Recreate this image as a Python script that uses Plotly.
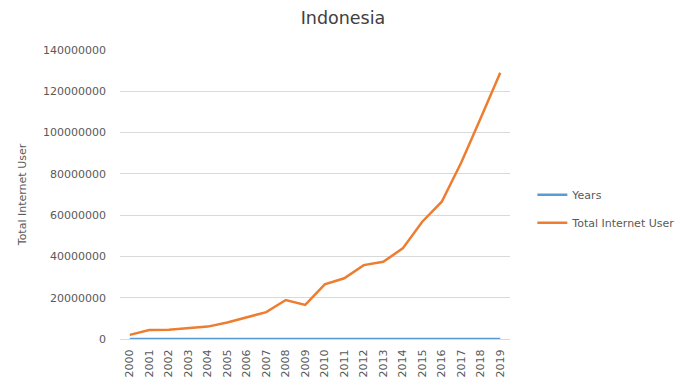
import plotly.graph_objects as go

years = list(range(2000, 2020))
year_labels = [str(y) for y in years]
internet_users = [2000000, 4400000, 4500000, 5300000, 6000000, 8000000, 10500000, 13000000,
                  18900000, 16500000, 26500000, 29400000, 35800000, 37400000, 43900000,
                  56800000, 66500000, 85500000, 107000000, 129000000]

grey = "#595959"
font_family = "DejaVu Sans, sans-serif"
fig = go.Figure()
fig.add_trace(go.Scatter(x=year_labels, y=years, mode="lines", name="Years", legendgroup="a",
                         line=dict(color="#5B9BD5", width=2.5)))
fig.add_trace(go.Scatter(x=year_labels, y=internet_users, mode="lines", name="Total Internet User",
                         legendgroup="b", line=dict(color="#ED7D31", width=2.5)))

fig.update_layout(
    width=686, height=383,
    margin=dict(l=120, r=176, t=50, b=44, autoexpand=False),
    paper_bgcolor="white", plot_bgcolor="white",
    font=dict(family=font_family, color=grey, size=11),
    title=dict(text="Indonesia", xref="container", x=0.5, xanchor="center",
               yref="container", y=0.953, yanchor="middle",
               font=dict(size=17.5, color="#404040", family=font_family)),
    showlegend=True,
    legend=dict(xref="container", yref="container", x=0.776, y=0.455,
                xanchor="left", yanchor="middle",
                font=dict(size=11, color=grey), bgcolor="rgba(0,0,0,0)",
                traceorder="grouped", tracegroupgap=9),
)
fig.update_xaxes(type="category", range=[-0.5, 19.5], tickangle=-90, showgrid=False,
                 showline=True, linecolor="#D9D9D9", linewidth=1, automargin=False,
                 tickfont=dict(size=11, color=grey), ticks="", ticklabelstandoff=5)
fig.update_yaxes(range=[0, 140000000], dtick=20000000, tickformat="d", automargin=False,
                 showgrid=True, gridcolor="#D9D9D9", gridwidth=1, zeroline=False,
                 title=dict(text="Total Internet User", font=dict(size=11, color=grey), standoff=14),
                 tickfont=dict(size=11, color=grey), ticks="", ticklabelstandoff=13)

fig.write_html("out.html")
